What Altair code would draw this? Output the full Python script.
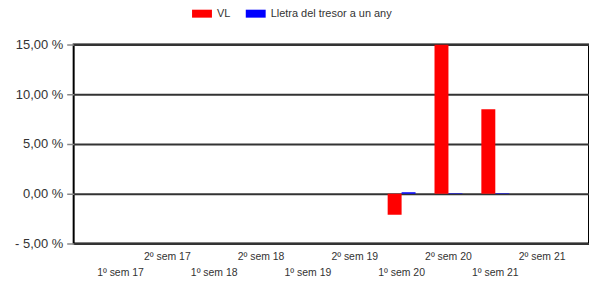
import altair as alt
import pandas as pd

semesters = ["1º sem 17", "2º sem 17", "1º sem 18", "2º sem 18", "1º sem 19",
             "2º sem 19", "1º sem 20", "2º sem 20", "1º sem 21", "2º sem 21"]
series = ["VL", "Lletra del tresor a un any"]
vl_values = [None, None, None, None, None, None, -2.1, 15.0, 8.5, None]
lletra_values = [None, None, None, None, None, None, 0.15, 0.05, 0.05, None]
colors = ["#ff0000", "#0000ff"]
y_ticks = [-5, 0, 5, 10, 15]

rows = []
for s, v in zip(semesters, vl_values):
    if v is not None:
        rows.append({"sem": s, "serie": series[0], "val": v})
for s, v in zip(semesters, lletra_values):
    if v is not None:
        rows.append({"sem": s, "serie": series[1], "val": v})
df = pd.DataFrame(rows)

font = "Liberation Sans"

chart = alt.Chart(df).mark_bar(clip=True).encode(
    x=alt.X("sem:N", sort=semesters,
            scale=alt.Scale(domain=semesters, paddingOuter=0.5, paddingInner=0),
            axis=alt.Axis(title=None, labelAngle=0, ticks=False, domain=False,
                          labelExpr="indexof(datum.label, '2º') == 0 ? [datum.label] : ['', datum.label]",
                          labelLineHeight=16.5, labelPadding=8, labelFontSize=10.5,
                          labelOverlap=False, labelBound=False, labelFont=font,
                          labelColor="#333")),
    xOffset=alt.XOffset("serie:N", sort=series,
                        scale=alt.Scale(domain=series, paddingOuter=0.68, paddingInner=0)),
    y=alt.Y("val:Q",
            scale=alt.Scale(domain=[-5, 15], nice=False, zero=False),
            axis=alt.Axis(title=None, values=y_ticks, grid=True, gridColor="#333",
                          gridWidth=1.8, domain=False, tickColor="#888", tickSize=7,
                          tickWidth=1.5, labelPadding=4, labelFontSize=13, labelFont=font,
                          labelColor="#333",
                          labelExpr="(datum.value < 0 ? '- ' : '') + replace(format(abs(datum.value), '.2f'), '.', ',') + ' %'")),
    color=alt.Color("serie:N", sort=series,
                    scale=alt.Scale(domain=series, range=colors),
                    legend=alt.Legend(title=None, orient="none", direction="horizontal",
                                      legendX=119, legendY=-41,
                                      symbolType="M-1,-0.4H1V0.4H-1Z", symbolSize=400,
                                      symbolStrokeWidth=0, labelFontSize=11, labelFont=font,
                                      labelColor="#333", columnPadding=15, labelOffset=5)),
).properties(
    width=518, height=200,
    padding={"left": 66, "top": 36, "right": 0, "bottom": 38},
    autosize=alt.AutoSizeParams(type="none"),
).configure_view(
    stroke="black", strokeWidth=2
)

chart.save("out.html", embed_options={"renderer": "svg", "actions": False})
